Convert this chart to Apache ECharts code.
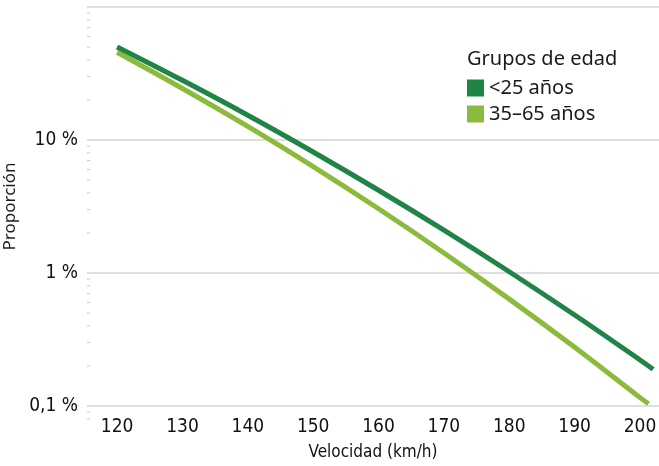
<!DOCTYPE html>
<html>
<head>
<meta charset="utf-8">
<script src="https://cdn.jsdelivr.net/npm/echarts@6/dist/echarts.min.js"></script>
<style>
  html, body { margin: 0; padding: 0; background: #ffffff; }
  #chart { width: 659px; height: 466px; }
</style>
</head>
<body>
<div id="chart"></div>
<script>
// ---- data ----
const speedsUnder25 = [120, 130, 140, 150, 160, 170, 180, 190, 200, 202];
const under25 = [50.1, 28.1, 15.35, 8.13, 4.19, 2.1, 1.022, 0.483, 0.222, 0.189];
const speeds35to65 = [120, 130, 140, 150, 160, 170, 180, 190, 200, 201.3];
const age35to65 = [45.7, 24.4, 12.65, 6.31, 3.04, 1.415, 0.636, 0.276, 0.1156, 0.104];
const seriesNames = ['<25 años', '35–65 años'];
const yTickLabels = { '0.1': '0,1 %', '1': '1 %', '10': '10 %', '100': '' };
const minorTickValues = [0.08, 0.09, 0.2, 0.3, 0.4, 0.5, 0.6, 0.7, 0.8, 0.9,
  2, 3, 4, 5, 6, 7, 8, 9, 20, 30, 40, 50, 60, 70, 80, 90];
const legendTitle = 'Grupos de edad';
const xAxisTitle = 'Velocidad (km/h)';
const yAxisTitle = 'Proporción';

const xMin = 115.4, xMax = 202.9;
const darkGreen = '#1f8446';
const lightGreen = '#8cba3c';
const condensed = '"DejaVu Sans Condensed", "Liberation Sans Narrow", "Arial Narrow", sans-serif';
const sans = '"Noto Sans", "Open Sans", sans-serif';

const chart = echarts.init(document.getElementById('chart'), null, { renderer: 'canvas' });

const pair = (xs, vals) => xs.map((s, i) => [s, vals[i]]);

chart.setOption({
  animation: false,
  backgroundColor: '#ffffff',
  title: {
    text: legendTitle,
    left: 467,
    top: 49,
    padding: 0,
    textStyle: { fontFamily: sans, fontSize: 20, fontWeight: 'normal', color: '#1a1a1a' }
  },
  legend: {
    data: seriesNames,
    orient: 'vertical',
    left: 467,
    top: 78,
    padding: 0,
    itemWidth: 17,
    itemHeight: 17,
    itemGap: 6,
    icon: 'rect',
    textStyle: { fontFamily: sans, fontSize: 20, color: '#1a1a1a', padding: [0, 0, 0, 0] }
  },
  grid: { left: 87, right: 0, top: 7, bottom: 60, containLabel: false, outerBoundsMode: 'none' },
  xAxis: {
    type: 'value',
    min: xMin,
    max: xMax,
    splitNumber: 9,
    minInterval: 10,
    maxInterval: 10,
    axisLine: { show: false },
    axisTick: { show: false },
    splitLine: { show: false },
    axisLabel: {
      margin: 12,
      fontFamily: condensed,
      fontSize: 19,
      color: '#111',
      formatter: (v) => (Math.abs(v % 10) < 1e-6 ? String(v) : '')
    },
    name: xAxisTitle,
    nameLocation: 'middle',
    nameGap: 38,
    nameTextStyle: { fontFamily: condensed, fontSize: 17, color: '#111' }
  },
  yAxis: {
    type: 'log',
    logBase: 10,
    min: 0.1,
    max: 100,
    axisLine: { show: false },
    axisTick: { show: false },
    splitLine: { show: true, lineStyle: { color: '#d4d4d4', width: 1.5 } },
    axisLabel: {
      margin: 9,
      fontFamily: condensed,
      fontSize: 19,
      color: '#111',
      formatter: (v) => {
        const k = String(Math.round(v * 1000) / 1000);
        return yTickLabels[k] !== undefined ? yTickLabels[k] : '';
      }
    },
    name: yAxisTitle,
    nameLocation: 'middle',
    nameGap: 64,
    nameTextStyle: { fontFamily: sans, fontSize: 17, color: '#1a1a1a' }
  },
  series: [
    {
      name: 'minor',
      type: 'custom',
      silent: true,
      clip: false,
      data: minorTickValues.map(v => [xMin, v]),
      renderItem: (params, api) => {
        const p = api.coord([api.value(0), api.value(1)]);
        return {
          type: 'line',
          shape: { x1: p[0], y1: p[1], x2: p[0] + 3, y2: p[1] },
          style: { stroke: '#c8c8c8', lineWidth: 1 }
        };
      }
    },
    {
      name: seriesNames[1],
      type: 'line',
      data: pair(speeds35to65, age35to65),
      showSymbol: false,
      symbol: 'none',
      smooth: 0.4,
      color: lightGreen,
      lineStyle: { width: 5, color: lightGreen }
    },
    {
      name: seriesNames[0],
      type: 'line',
      data: pair(speedsUnder25, under25),
      showSymbol: false,
      symbol: 'none',
      smooth: 0.4,
      color: darkGreen,
      lineStyle: { width: 5, color: darkGreen }
    }
  ]
});
</script>
</body>
</html>
